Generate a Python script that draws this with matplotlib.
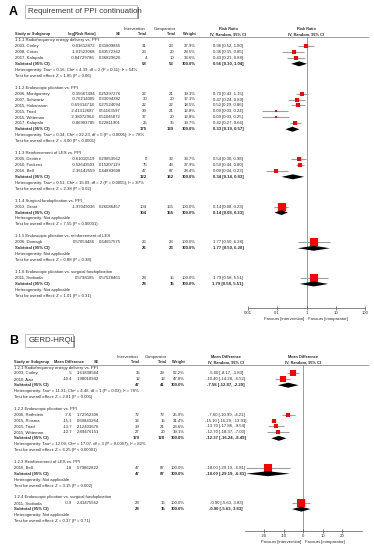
import matplotlib.pyplot as plt
from matplotlib.patches import Rectangle
import numpy as np

plt.rcParams['font.family'] = ['Liberation Sans', 'DejaVu Sans']

W, H = 374, 550
FS = 3.05
HFS = 2.8
TXT = '#2a2a2a'

# ---------------- panel A data: Requirement of PPI continuation ----------------
a_groups = ['1.1.1 Radiofrequency energy delivery vs. PPI',
            '1.1.2 Endoscopic plication vs. PPI',
            '1.1.3 Reinforcement of LES vs. PPI',
            '1.1.4 Surgical fundoplication vs. PPI',
            '1.1.5 Endoscopic plication vs. reinforcement of LES',
            '1.1.6 Endoscopic plication vs. surgical fundoplication']
a_grp = [0, 0, 0, 1, 1, 1, 1, 1, 1, 2, 2, 2, 3, 4, 5]
a_study = ['2003, Corley', '2008, Coron', '2017, Kalapala',
           '2006, Montgomery', '2007, Schwartz', '2015, Håkansson', '2015, Triad',
           '2015, Witteman', '2017, Kalapala',
           '2005, Devière', '2010, Fockens', '2016, Bell',
           '2013, Grant', '2006, Domagk', '2011, Svoboda']
a_est = ['-0.03612872', '-1.01523068', '-0.84729786',
         '-0.35667494', '-0.76214005', '-0.69314718', '-2.41312687', '-2.38072964', '-0.86903785',
         '-0.61010519', '-0.52643503', '-2.36142559',
         '-1.97049036', '0.57054486', '0.5798185']
a_se = ['0.31809865', '0.43572362', '0.36829626',
        '0.25397276', '0.33094382', '0.27524094', '0.51163597', '0.51045072', '0.22811901',
        '0.29853562', '0.15207119', '0.44883608',
        '0.26086457', '0.64657575', '0.57528461']
a_n1 = [31, 23, 4, 22, 30, 22, 39, 37, 25, 0, 75, 47, 104, 26, 28]
a_n2 = [23, 20, 10, 21, 20, 22, 21, 20, 35, 32, 43, 87, 155, 23, 15]
a_w = [37.9, 28.5, 33.6, 19.1, 17.1, 18.5, 12.8, 12.8, 19.7, 33.7, 37.9, 28.4, 100.0, 100.0, 100.0]
a_rr = [0.96, 0.36, 0.43, 0.70, 0.47, 0.50, 0.09, 0.09, 0.42, 0.54, 0.59, 0.09, 0.14, 1.77, 1.79]
a_lo = [0.52, 0.15, 0.21, 0.43, 0.24, 0.29, 0.03, 0.03, 0.27, 0.30, 0.44, 0.04, 0.08, 0.50, 0.58]
a_hi = [1.80, 0.85, 0.88, 1.15, 0.89, 0.86, 0.24, 0.25, 0.66, 0.98, 0.80, 0.23, 0.23, 6.28, 5.51]
a_sub_n1 = [58, 175, 122, 104, 26, 28]
a_sub_n2 = [53, 139, 162, 155, 23, 15]
a_sub_rr = [0.56, 0.33, 0.34, 0.14, 1.77, 1.79]
a_sub_lo = [0.30, 0.19, 0.14, 0.08, 0.50, 0.58]
a_sub_hi = [1.04, 0.57, 0.83, 0.23, 6.28, 5.51]
a_het = ['Heterogeneity: Tau² = 0.16; Chi² = 4.39, df = 2 (P = 0.11); I² = 54%',
         'Heterogeneity: Tau² = 0.34; Chi² = 22.23, df = 5 (P = 0.0005); I² = 78%',
         'Heterogeneity: Tau² = 0.51; Chi² = 15.09, df = 2 (P = 0.0005); I² = 87%',
         'Heterogeneity: Not applicable',
         'Heterogeneity: Not applicable',
         'Heterogeneity: Not applicable']
a_test = ['Test for overall effect: Z = 1.85 (P = 0.06)',
          'Test for overall effect: Z = 4.00 (P < 0.0001)',
          'Test for overall effect: Z = 2.38 (P = 0.02)',
          'Test for overall effect: Z = 7.55 (P < 0.00001)',
          'Test for overall effect: Z = 0.88 (P = 0.38)',
          'Test for overall effect: Z = 1.01 (P = 0.31)']
a_ticks = [0.01, 0.1, 1, 10, 100]
a_ticklabels = ['0.01', '0.1', '1', '10', '100']

# ---------------- panel B data: GERD-HRQL ----------------
b_groups = ['1.2.1 Radiofrequency energy delivery vs. PPI',
            '1.2.2 Endoscopic plication vs. PPI',
            '1.2.3 Reinforcement of LES vs. PPI',
            '1.2.4 Endoscopic plication vs. surgical fundoplication']
b_grp = [0, 0, 1, 1, 1, 1, 2, 3]
b_study = ['2003, Corley', '2010, Aziz',
           '2006, Rothstein', '2015, Rinsma', '2015, Triad', '2015, Witteman',
           '2016, Bell', '2011, Svoboda']
b_est = ['-5', '-10.4', '-7.6', '-15.1', '-13.7', '-12.7', '-18', '-0.9']
b_se = ['1.61838564', '1.98010942', '1.72952306', '0.60843264', '2.12403676',
        '2.89476151', '5.70862822', '2.41475562']
b_n1 = [35, 12, 72, 32, 39, 27, 47, 28]
b_n2 = [29, 12, 72, 15, 21, 20, 87, 15]
b_w = [52.2, 47.8, 25.9, 31.4, 23.6, 19.1, 100.0, 100.0]
b_md = [-5.00, -10.40, -7.60, -15.10, -13.70, -12.70, -18.00, -0.90]
b_lo = [-8.17, -14.28, -10.99, -16.29, -17.86, -18.37, -29.19, -5.63]
b_hi = [-1.83, -6.52, -4.21, -13.91, -9.54, -7.03, -6.81, 3.83]
b_sub_n1 = [47, 170, 47, 28]
b_sub_n2 = [41, 128, 87, 15]
b_sub_md = [-7.58, -12.37, -18.00, -0.90]
b_sub_lo = [-12.87, -16.24, -29.19, -5.63]
b_sub_hi = [-2.29, -8.49, -6.81, 3.83]
b_het = ['Heterogeneity: Tau² = 11.31; Chi² = 4.46, df = 1 (P = 0.03); I² = 78%',
         'Heterogeneity: Tau² = 12.09; Chi² = 17.07, df = 3 (P = 0.0007); I² = 82%',
         'Heterogeneity: Not applicable',
         'Heterogeneity: Not applicable']
b_test = ['Test for overall effect: Z = 2.81 (P = 0.005)',
          'Test for overall effect: Z = 6.25 (P < 0.00001)',
          'Test for overall effect: Z = 3.15 (P = 0.002)',
          'Test for overall effect: Z = 0.37 (P = 0.71)']
b_ticks = [-20, -10, 0, 10, 20]
b_ticklabels = ['-20', '-10', '0', '10', '20']

fig = plt.figure(figsize=(W / 100, H / 100), dpi=100)
bg = fig.add_axes([0, 0, 1, 1])
bg.set_xlim(0, W)
bg.set_ylim(H, 0)
bg.axis('off')


def txt(x, y, s, ha='left', bold=False, size=FS, color=TXT):
    bg.text(x, y, s, ha=ha, va='center', fontsize=size, color=color,
            fontweight='bold' if bold else 'normal')


def title_box(letter, title, y, x0, x1):
    txt(9, y, letter, bold=True, size=9, color='black')
    bg.add_patch(Rectangle((x0 + 1.8, y - 5.2), x1 - x0, 12.5, fc='#8a8a8a', ec='none'))
    bg.add_patch(Rectangle((x0, y - 7), x1 - x0, 12.5, fc='white', ec='#aaaaaa', lw=0.5))
    txt(x0 + 3.5, y - 0.8, title, size=5.7, color='#3a3a3a')


def forest_axes(x0, x1, y_top, y_axis, xscale, xlim, ticks, ticklabels, vline):
    ax = fig.add_axes([x0 / W, 1 - y_axis / H, (x1 - x0) / W, (y_axis - y_top) / H])
    ax.set_xscale(xscale)
    ax.set_xlim(*xlim)
    ax.set_ylim(y_axis, y_top)
    ax.patch.set_alpha(0)
    for s in ['top', 'left', 'right']:
        ax.spines[s].set_visible(False)
    ax.spines['bottom'].set_linewidth(0.5)
    ax.spines['bottom'].set_color('#555555')
    ax.set_yticks([])
    ax.set_xticks(ticks)
    ax.set_xticklabels(ticklabels)
    ax.minorticks_off()
    ax.tick_params(axis='x', direction='inout', length=2.5, width=0.5, color='#555555',
                   labelsize=FS, labelcolor=TXT, pad=1)
    ax.axvline(vline, color='#8a8a8a', lw=0.6, zorder=1)
    return ax


def draw_panel(ax, y0, dy, cols, groups, grp, study, est, se, n1, n2, w, eff, lo, hi,
               sn1, sn2, seff, slo, shi, het, test, fmt, msz):
    row = 0
    for g, gname in enumerate(groups):
        y = y0 + row * dy
        txt(cols['study'], y, gname)
        row += 1
        for i in [k for k, gg in enumerate(grp) if gg == g]:
            y = y0 + row * dy
            txt(cols['study'], y, study[i])
            txt(cols['est'], y, est[i], ha='right')
            txt(cols['se'], y, se[i], ha='right')
            txt(cols['n1'], y, str(n1[i]), ha='right')
            txt(cols['n2'], y, str(n2[i]), ha='right')
            txt(cols['w'], y, '%.1f%%' % w[i], ha='right')
            txt(cols['ci'], y, (fmt + ' [' + fmt + ', ' + fmt + ']') % (eff[i], lo[i], hi[i]), ha='center')
            ax.plot([lo[i], hi[i]], [y, y], color='#a0a0a0', lw=0.8, zorder=2, solid_capstyle='butt')
            ax.plot([eff[i]], [y], marker='s', ms=msz * np.sqrt(w[i] / 100.0), color='#ff0000',
                    mec='#ff0000', mew=0, zorder=3, clip_on=False)
            row += 1
        y = y0 + row * dy
        txt(cols['study'], y, 'Subtotal (95% CI)', bold=True)
        txt(cols['n1'], y, str(sn1[g]), ha='right', bold=True)
        txt(cols['n2'], y, str(sn2[g]), ha='right', bold=True)
        txt(cols['w'], y, '100.0%', ha='right', bold=True)
        txt(cols['ci'], y, (fmt + ' [' + fmt + ', ' + fmt + ']') % (seff[g], slo[g], shi[g]), ha='center', bold=True)
        ax.fill([slo[g], seff[g], shi[g], seff[g]], [y, y - 2.5, y, y + 2.5], color='black', lw=0, zorder=4)
        row += 1
        txt(cols['study'], y0 + row * dy, het[g])
        row += 1
        txt(cols['study'], y0 + row * dy, test[g])
        row += 2


def headers(yh, cols, est_head, eff_head, x_plot):
    txt(cols['n1'] - 2, yh - 5, 'Intervention', ha='right')
    txt(cols['n2'] + 2, yh - 5, 'Comparator', ha='right')
    txt(cols['ci'], yh - 5, eff_head, ha='center', bold=True, size=HFS)
    txt(x_plot, yh - 5, eff_head, ha='center', bold=True, size=HFS)
    txt(cols['study'], yh, 'Study or Subgroup', bold=True, size=HFS)
    txt(cols['est_h'], yh, est_head, ha='right', bold=True, size=HFS)
    txt(cols['se'], yh, 'SE', ha='right', bold=True, size=HFS)
    txt(cols['n1'], yh, 'Total', ha='right', bold=True, size=HFS)
    txt(cols['n2'] + 2, yh, 'Total', ha='right', bold=True, size=HFS)
    txt(cols['w'], yh, 'Weight', ha='right', bold=True, size=HFS)
    txt(cols['ci'], yh, 'IV, Random, 95% CI', ha='center', bold=True, size=HFS)
    txt(x_plot, yh, 'IV, Random, 95% CI', ha='center', bold=True, size=HFS)
    bg.plot([cols['study'], 368], [yh + 2.6, yh + 2.6], color='#777777', lw=0.5)


# ---------------- panel A ----------------
colsA = dict(study=15, est=95, est_h=96, se=121, n1=147, n2=174, w=196, ci=228)
title_box('A', 'Requirement of PPI continuation', 12, 25, 137)
headers(34, colsA, 'log[Risk Ratio]', 'Risk Ratio', 306.5)
axA = forest_axes(248, 365, 36.6, 308, 'log', (0.01, 100), a_ticks, a_ticklabels, 1)
draw_panel(axA, 40, 5.95, colsA, a_groups, a_grp, a_study, a_est, a_se, a_n1, a_n2, a_w,
           a_rr, a_lo, a_hi, a_sub_n1, a_sub_n2, a_sub_rr, a_sub_lo, a_sub_hi,
           a_het, a_test, '%.2f', 5.5)
txt(304, 319, 'Favours [intervention]', ha='right')
txt(308, 319, 'Favours [comparator]')

# ---------------- panel B ----------------
colsB = dict(study=14, est=72, est_h=84, se=99, n1=140, n2=165, w=185, ci=226)
title_box('B', 'GERD-HRQL', 341, 25, 73)
headers(362, colsB, 'Mean Difference', 'Mean Difference', 303)
axB = forest_axes(244.5, 361.5, 364.6, 531, 'linear', (-30, 30), b_ticks, b_ticklabels, 0)
draw_panel(axB, 367.5, 5.9, colsB, b_groups, b_grp, b_study, b_est, b_se, b_n1, b_n2, b_w,
           b_md, b_lo, b_hi, b_sub_n1, b_sub_n2, b_sub_md, b_sub_lo, b_sub_hi,
           b_het, b_test, '%.2f', 6.0)
txt(301, 541.5, 'Favours [intervention]', ha='right')
txt(305, 541.5, 'Favours [comparator]')

fig.savefig('out.png', dpi=100, facecolor='white')
